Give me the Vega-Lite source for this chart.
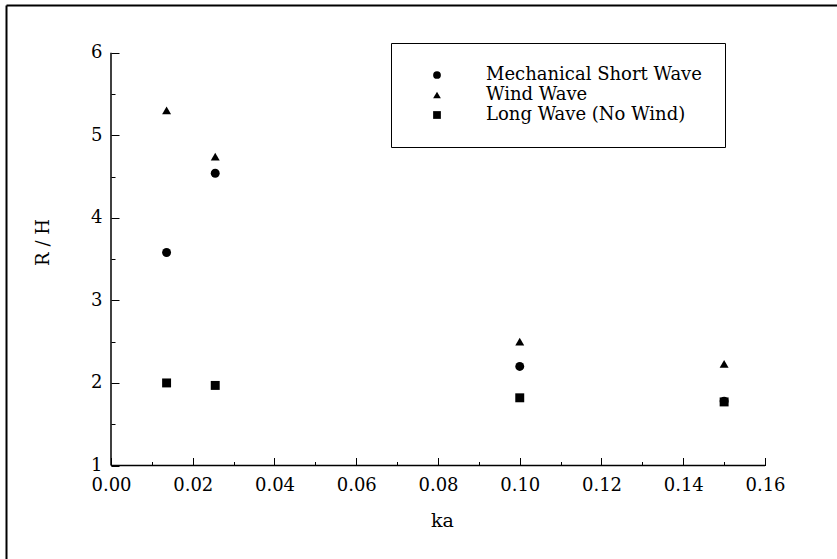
{
  "$schema": "https://vega.github.io/schema/vega-lite/v6.json",
  "width": 831,
  "height": 554,
  "autosize": {"type": "none"},
  "padding": {"left": 6, "top": 5, "right": 0, "bottom": 0},
  "background": "white",
  "config": {
    "view": {"stroke": null},
    "font": "DejaVu Serif",
    "axis": {"labelFont": "DejaVu Serif", "titleFont": "DejaVu Serif", "labelColor": "black", "titleColor": "black", "tickColor": "black", "domainColor": "black", "grid": false, "titleFontWeight": "normal"},
    "legend": {"labelFont": "DejaVu Serif", "labelColor": "black"}
  },
  "resolve": {"axis": {"x": "independent", "y": "independent"}},
  "layer": [
    {
      "data": {"values": [
        {"ka": 0.0136, "rh": 3.58, "series": "Mechanical Short Wave"},
        {"ka": 0.0255, "rh": 4.54, "series": "Mechanical Short Wave"},
        {"ka": 0.10, "rh": 2.20, "series": "Mechanical Short Wave"},
        {"ka": 0.15, "rh": 1.78, "series": "Mechanical Short Wave"},
        {"ka": 0.0136, "rh": 5.30, "series": "Wind Wave"},
        {"ka": 0.0255, "rh": 4.74, "series": "Wind Wave"},
        {"ka": 0.10, "rh": 2.50, "series": "Wind Wave"},
        {"ka": 0.15, "rh": 2.23, "series": "Wind Wave"},
        {"ka": 0.0136, "rh": 2.00, "series": "Long Wave (No Wind)"},
        {"ka": 0.0255, "rh": 1.97, "series": "Long Wave (No Wind)"},
        {"ka": 0.10, "rh": 1.82, "series": "Long Wave (No Wind)"},
        {"ka": 0.15, "rh": 1.77, "series": "Long Wave (No Wind)"}
      ]},
      "mark": {"type": "point", "filled": true, "color": "black", "opacity": 1, "size": 80},
      "encoding": {
        "x": {
          "field": "ka", "type": "quantitative",
          "scale": {"domain": [-0.025688, 0.177615], "nice": false, "zero": false},
          "axis": {
            "orient": "bottom", "offset": -93.5, "domain": false,
            "values": [0, 0.02, 0.04, 0.06, 0.08, 0.1, 0.12, 0.14, 0.16],
            "format": ".2f", "tickSize": -8, "tickWidth": 1,
            "labelFontSize": 18, "labelPadding": 19, "labelFlush": false, "labelOverlap": false, "labelBound": false,
            "title": "ka", "titleFontSize": 19, "titleX": 436, "titleY": 61, "titleBaseline": "alphabetic", "titleAnchor": "start", "titleAlign": "center"
          }
        },
        "y": {
          "field": "rh", "type": "quantitative",
          "scale": {"domain": [-0.1325, 6.5778], "nice": false, "zero": false},
          "axis": {
            "orient": "left", "offset": -105, "domain": false,
            "values": [1, 2, 3, 4, 5, 6],
            "format": "d", "tickSize": -8, "tickWidth": 1,
            "labelFontSize": 18, "labelPadding": 17, "labelFlush": false, "labelOverlap": false, "labelBound": false,
            "title": "R / H", "titleFontSize": 18, "titleX": -68, "titleY": 237, "titleAngle": -90, "titleBaseline": "middle", "titleAlign": "center"
          }
        },
        "shape": {
          "field": "series", "type": "nominal",
          "scale": {"domain": ["Mechanical Short Wave", "Wind Wave", "Long Wave (No Wind)"], "range": ["circle", "triangle-up", "square"]},
          "legend": {
            "orient": "none", "legendX": 385, "legendY": 38, "title": null,
            "strokeColor": "black", "fillColor": "white", "padding": 23,
            "symbolOffset": 14, "labelOffset": 40, "labelFontSize": 18, "rowPadding": 2,
            "symbolSize": 60, "symbolFillColor": "black", "symbolStrokeColor": "black", "symbolStrokeWidth": 0,
            "labelLimit": 400
          }
        }
      }
    },
    {
      "data": {"values": [{}]},
      "mark": {"type": "rule", "color": "black", "strokeWidth": 1.5},
      "encoding": {
        "x": {
          "datum": 0, "type": "quantitative",
          "scale": {"domain": [-0.025688, 0.177615], "nice": false, "zero": false},
          "axis": {
            "orient": "bottom", "offset": -93.5, "domain": false,
            "values": [0.01, 0.03, 0.05, 0.07, 0.09, 0.11, 0.13, 0.15],
            "tickSize": -4, "labels": false, "title": null
          }
        },
        "x2": {"datum": 0.16},
        "y": {
          "datum": 1, "type": "quantitative",
          "scale": {"domain": [-0.1325, 6.5778], "nice": false, "zero": false},
          "axis": {"orient": "left", "offset": 0, "domain": true, "domainWidth": 2, "ticks": false, "labels": false, "title": null}
        }
      }
    },
    {
      "data": {"values": [{}]},
      "mark": {"type": "rule", "color": "black", "strokeWidth": 1.5},
      "encoding": {
        "x": {
          "datum": 0, "type": "quantitative",
          "scale": {"domain": [-0.025688, 0.177615], "nice": false, "zero": false},
          "axis": {"orient": "top", "offset": 0, "domain": true, "domainWidth": 2, "ticks": false, "labels": false, "title": null}
        },
        "y": {
          "datum": 1, "type": "quantitative",
          "scale": {"domain": [-0.1325, 6.5778], "nice": false, "zero": false},
          "axis": {
            "orient": "left", "offset": -105, "domain": false,
            "values": [1.5, 2.5, 3.5, 4.5, 5.5],
            "tickSize": -4, "labels": false, "title": null
          }
        },
        "y2": {"datum": 6}
      }
    }
  ]
}
